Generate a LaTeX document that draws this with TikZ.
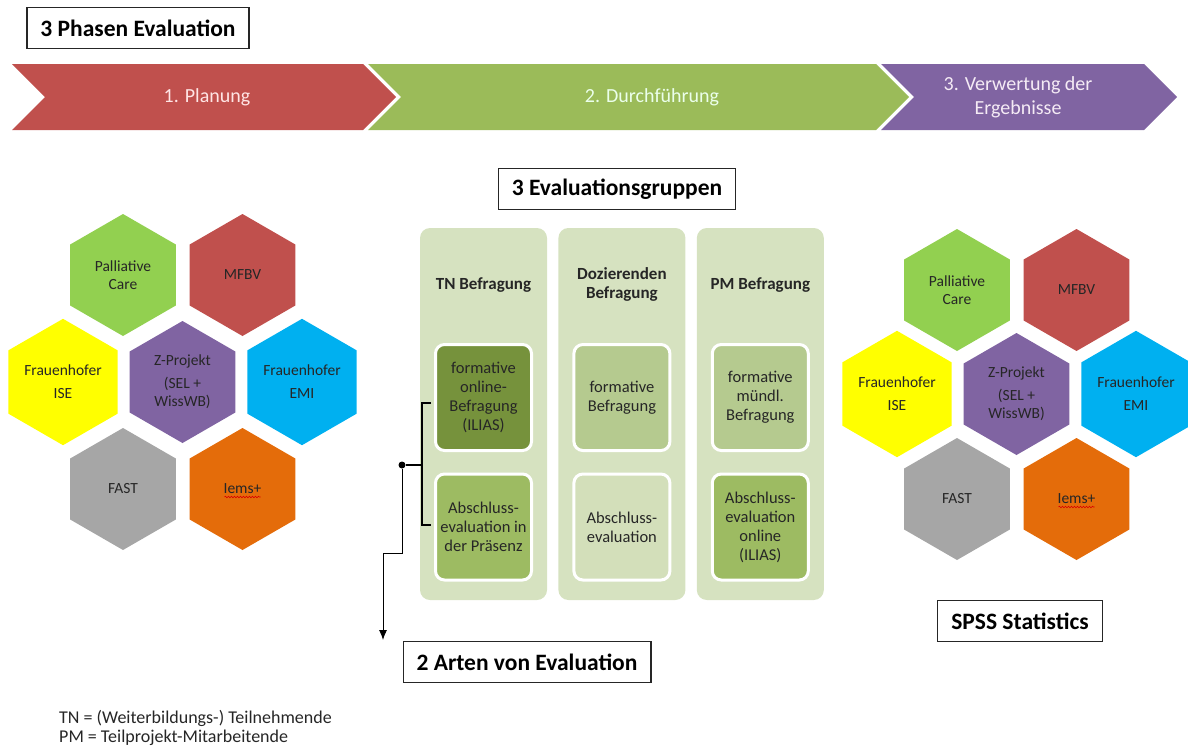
\documentclass[tikz,border=0pt]{standalone}
\usepackage{fontspec}
\setmainfont{Carlito}
\usetikzlibrary{arrows.meta,positioning,shapes.geometric,decorations.pathmorphing}

\definecolor{phred}{HTML}{C0504D}
\definecolor{phgreen}{HTML}{9BBB59}
\definecolor{phpurple}{HTML}{8064A2}
\definecolor{hgreen}{HTML}{92D050}
\definecolor{hred}{HTML}{C0504D}
\definecolor{hyellow}{HTML}{FFFF00}
\definecolor{hpurple}{HTML}{8064A2}
\definecolor{hblue}{HTML}{00B0F0}
\definecolor{hgrey}{HTML}{A6A6A6}
\definecolor{horange}{HTML}{E46C0A}
\definecolor{grpbg}{HTML}{D6E2C0}
\definecolor{indark}{HTML}{76923C}
\definecolor{inmid}{HTML}{9DBB62}
\definecolor{inlight}{HTML}{B5CA8F}
\definecolor{inpale}{HTML}{D3DFBA}

\begin{document}
\begin{tikzpicture}[x=1pt,y=-1pt,>={Latex[length=10pt,width=8pt]},node distance=119.5pt,
  hex/.style={regular polygon,regular polygon sides=6,shape border rotate=30,minimum size=122pt,
    inner sep=0pt,align=center,text=black!85,font=\fontsize{15.5}{18}\selectfont},
  headbox/.style={draw=black!85,line width=1.1pt,fill=white,inner xsep=13.5pt,inner ysep=0pt,
    minimum height=41pt,font=\fontsize{23.5}{28}\selectfont\bfseries},
  phase/.style={align=center,font=\fontsize{20}{24}\selectfont},
  grp/.style={rounded corners=10pt,fill=grpbg,minimum width=127pt,minimum height=372pt,inner sep=0pt},
  grptitle/.style={align=center,text=black!85,font=\fontsize{17}{19}\selectfont\bfseries},
  inbox/.style={draw=white,line width=3pt,rounded corners=9pt,minimum width=96pt,minimum height=106pt,
    inner sep=0pt,align=center,text=black!85,font=\fontsize{16.5}{19}\selectfont},
  legend/.style={inner sep=0pt,anchor=base west,text=black!85,font=\fontsize{18}{20}\selectfont},
  squiggle/.style={draw=red!85!black,line width=0.6pt,decorate,
    decoration={snake,amplitude=0.8pt,segment length=3pt}}]

\useasboundingbox (0,0) rectangle (1188,753);

% phases
\node[headbox] (title) at (138,28) {3 Phasen Evaluation};

\fill[phred] (12,64) -- (363,64) -- (396,97) -- (363,130) -- (12,130) -- (45,97) -- cycle;
\fill[phgreen] (368,64) -- (876,64) -- (909,97) -- (876,130) -- (368,130) -- (401,97) -- cycle;
\fill[phpurple] (881,64) -- (1144,64) -- (1177,97) -- (1144,130) -- (881,130) -- (914,97) -- cycle;

\node[phase,text=red!10] (p1) at (207,97) {1. Planung};
\node[phase,text=green!8] (p2) at (652,97) {2. Durchführung};
\node[phase,text=violet!8] (p3) at (1018,97) {3. Verwertung der\\Ergebnisse};

% partners left
\node[hex,fill=hgreen] (pc1) at (123,275) {Palliative\\Care};
\node[hex,fill=hred] (mf1) [right of=pc1] {MFBV};
\node[hex,fill=hyellow] (ise1) at (63,382) {Frauenhofer\\[5pt]ISE};
\node[hex,fill=hpurple] (z1) [right of=ise1] {Z-Projekt\\[5pt](SEL +\\WissWB)};
\node[hex,fill=hblue] (emi1) [right of=z1] {Frauenhofer\\[5pt]EMI};
\node[hex,fill=hgrey] (fa1) at (123,489) {FAST};
\node[hex,fill=horange] (ie1) [right of=fa1] {Iems+};
\draw[squiggle] ([shift={(-18,8)}]ie1.center) -- ([shift={(18,8)}]ie1.center);

% partners right
\node[hex,fill=hgreen] (pc2) at (957,290) {Palliative\\Care};
\node[hex,fill=hred] (mf2) [right of=pc2] {MFBV};
\node[hex,fill=hyellow] (ise2) at (897,394) {Frauenhofer\\[5pt]ISE};
\node[hex,fill=hpurple] (z2) [right of=ise2] {Z-Projekt\\[5pt](SEL +\\WissWB)};
\node[hex,fill=hblue] (emi2) [right of=z2] {Frauenhofer\\[5pt]EMI};
\node[hex,fill=hgrey] (fa2) at (957,499) {FAST};
\node[hex,fill=horange] (ie2) [right of=fa2] {Iems+};
\draw[squiggle] ([shift={(-18,8)}]ie2.center) -- ([shift={(18,8)}]ie2.center);

% groups
\node[headbox] (groups) at (617,189) {3 Evaluationsgruppen};

\node[grp] (g1) at (483.5,414) {};
\node[grp] (g2) [right=11pt of g1] {};
\node[grp] (g3) [right=11pt of g2] {};

\node[grptitle] (h1) at ([yshift=-57pt]g1.north) {TN Befragung};
\node[grptitle] (h2) at ([yshift=-57pt]g2.north) {Dozierenden\\Befragung};
\node[grptitle] (h3) at ([yshift=-57pt]g3.north) {PM Befragung};

\node[inbox,fill=indark] (t1) at ([yshift=16.5pt]g1.center) {formative\\online-\\Befragung\\(ILIAS)};
\node[inbox,fill=inmid] (b1) at ([yshift=-113pt]g1.center) {Abschluss-\\evaluation in\\der Präsenz};
\node[inbox,fill=inlight] (t2) at ([yshift=16.5pt]g2.center) {formative\\Befragung};
\node[inbox,fill=inpale] (b2) at ([yshift=-113pt]g2.center) {Abschluss-\\evaluation};
\node[inbox,fill=inlight] (t3) at ([yshift=16.5pt]g3.center) {formative\\mündl.\\Befragung};
\node[inbox,fill=inmid] (b3) at ([yshift=-113pt]g3.center) {Abschluss-\\evaluation\\online\\(ILIAS)};

% two kinds
\coordinate (brt) at (431,403);
\coordinate (brb) at (431,525);
\coordinate (brm) at (422,465);
\coordinate (ae) at (383,640);
\node[circle,fill=black,inner sep=0pt,minimum size=7pt] (dot) at (402,465) {};

\draw[line width=1.8pt] (brt) -- ++(-9,0) |- (brb);
\draw[line width=1.8pt] (brm) -- (dot);
\draw[->,line width=0.9pt] (dot) -- ++(0,88) -| (ae);

\node[headbox] (kinds) at (527,662) {2 Arten von Evaluation};
\node[headbox] (spss) at (1020,621) {SPSS Statistics};

\node[legend] (l1) at (59,723) {TN = (Weiterbildungs-) Teilnehmende};
\node[legend] (l2) at (59,742) {PM = Teilprojekt-Mitarbeitende};

\end{tikzpicture}
\end{document}
